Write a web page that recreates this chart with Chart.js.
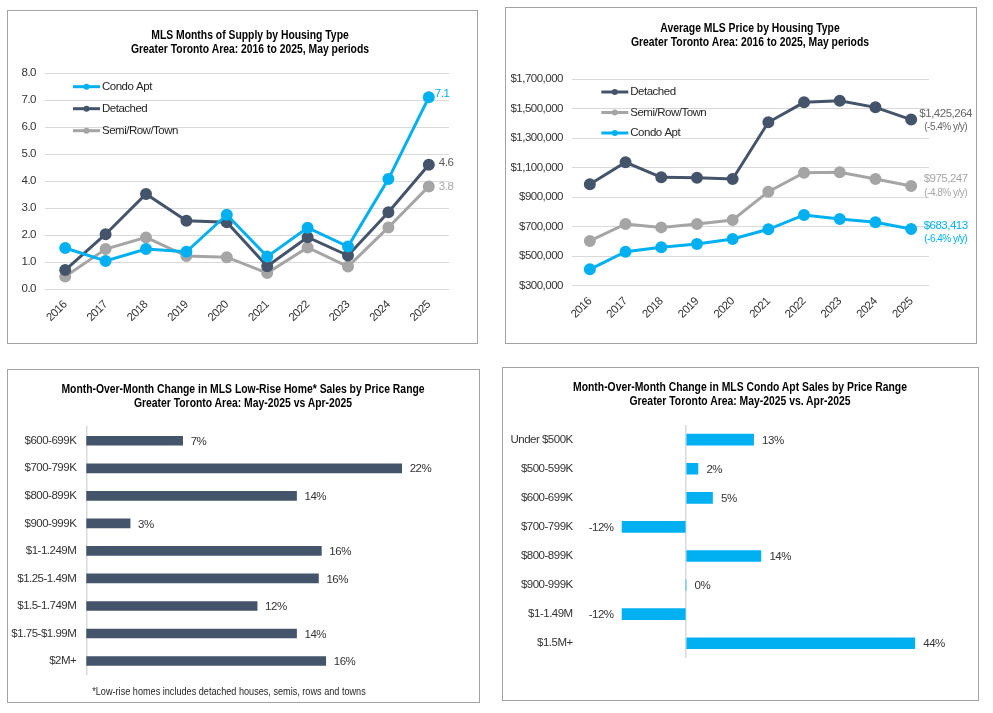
<!DOCTYPE html>
<html>
<head>
<meta charset="utf-8">
<script src="https://cdn.jsdelivr.net/npm/chart.js@4.4.1/dist/chart.umd.min.js"></script>
<style>
  body { margin: 0; background: #fff; }
  #page { position: relative; width: 993px; height: 713px; overflow: hidden;
          font-family: 'Liberation Sans', Arial, sans-serif; }
  .panel { position: absolute; border: 1px solid #a3a3a3; box-sizing: border-box; }
  .box { position: absolute; }
  .ttl { position: absolute; width: 460px; text-align: center; font-weight: bold;
         font-size: 12.5px; color: #000; line-height: 14px; white-space: nowrap;
         transform: scaleX(0.83); transform-origin: 50% 0; }
  .note { position: absolute; width: 400px; text-align: center; font-size: 11px; color: #262626;
          white-space: nowrap; transform: scaleX(0.83); transform-origin: 50% 0; }
</style>
</head>
<body>
<div id="page">
  <div class="panel" style="left:7px;top:10px;width:471px;height:334px"></div>
  <div class="panel" style="left:505px;top:7px;width:472px;height:337px"></div>
  <div class="panel" style="left:7px;top:369px;width:473px;height:334px"></div>
  <div class="panel" style="left:502px;top:367px;width:477px;height:334px"></div>

  <div class="box" style="left:8px;top:11px;width:469px;height:332px"><canvas id="supply"></canvas></div>
  <div class="box" style="left:506px;top:8px;width:470px;height:335px"><canvas id="price"></canvas></div>
  <div class="box" style="left:8px;top:370px;width:471px;height:332px"><canvas id="lowrise"></canvas></div>
  <div class="box" style="left:503px;top:368px;width:475px;height:332px"><canvas id="condo"></canvas></div>

  <div class="ttl" style="left:20px;top:28px">MLS Months of Supply by Housing Type<br>Greater Toronto Area: 2016 to 2025, May periods</div>
  <div class="ttl" style="left:520px;top:21px">Average MLS Price by Housing Type<br>Greater Toronto Area: 2016 to 2025, May periods</div>
  <div class="ttl" style="left:13px;top:382px">Month-Over-Month Change in MLS Low-Rise Home* Sales by Price Range<br>Greater Toronto Area: May-2025 vs Apr-2025</div>
  <div class="ttl" style="left:510px;top:380px">Month-Over-Month Change in MLS Condo Apt Sales by Price Range<br>Greater Toronto Area: May-2025 vs. Apr-2025</div>
  <div class="note" style="left:29px;top:685px">*Low-rise homes includes detached houses, semis, rows and towns</div>
</div>

<script>
const FONT = "'Liberation Sans', Arial, sans-serif";
Chart.defaults.font.family = FONT;
Chart.defaults.font.size = 11.5;
Chart.defaults.color = '#333333';

const CONDO = '#00b0f0';
const DETACHED = '#44546a';
const SEMI = '#a5a5a5';
const GRID = '#d9d9d9';

// ---- data ----
const years = ['2016', '2017', '2018', '2019', '2020', '2021', '2022', '2023', '2024', '2025'];

const supplyCondo    = [1.52, 1.04, 1.48, 1.38, 2.75, 1.20, 2.27, 1.57, 4.07, 7.1];
const supplyDetached = [0.70, 2.03, 3.52, 2.53, 2.47, 0.84, 1.92, 1.24, 2.84, 4.6];
const supplySemi     = [0.46, 1.48, 1.91, 1.22, 1.18, 0.59, 1.54, 0.83, 2.28, 3.8];

const priceDetached = [987000, 1136000, 1034000, 1031000, 1023000, 1407000, 1542000, 1553000, 1508000, 1425264];
const priceSemi     = [603000, 718000, 695000, 718000, 745000, 937000, 1065000, 1068000, 1023000, 975247];
const priceCondo    = [411000, 530000, 560000, 582000, 616000, 682000, 779000, 752000, 729000, 683413];
const priceYoY      = [-5.4, -4.8, -6.4];   // detached, semi, condo

const lowRiseRanges = ['$600-699K', '$700-799K', '$800-899K', '$900-999K', '$1-1.249M',
                       '$1.25-1.49M', '$1.5-1.749M', '$1.75-$1.99M', '$2M+'];
const lowRiseChange = [6.6, 21.6, 14.4, 3.0, 16.1, 15.9, 11.7, 14.4, 16.4];

const condoRanges = ['Under $500K', '$500-599K', '$600-699K', '$700-799K', '$800-899K',
                     '$900-999K', '$1-1.49M', '$1.5M+'];
const condoChange = [13.0, 2.3, 5.1, -12.3, 14.4, 0, -12.3, 44.0];

// ---- plugins ----
// no narrow font installed: tighten the letters a bit instead
const tightText = {
  id: 'tightText',
  beforeLayout(chart) { chart.ctx.letterSpacing = '-0.5px'; },
  beforeDraw(chart) { chart.ctx.letterSpacing = '-0.5px'; }
};
Chart.register(tightText);

const insideLegend = {
  id: 'insideLegend',
  afterDraw(chart, args, opts) {
    const {ctx, chartArea} = chart;
    ctx.save();
    chart.data.datasets.forEach((ds, i) => {
      const x0 = chartArea.left + opts.left;
      const y = chartArea.top + opts.top + i * opts.spacing;
      ctx.strokeStyle = ds.borderColor;
      ctx.lineWidth = 3;
      ctx.beginPath();
      ctx.moveTo(x0, y);
      ctx.lineTo(x0 + 27, y);
      ctx.stroke();
      ctx.fillStyle = ds.borderColor;
      ctx.beginPath();
      ctx.arc(x0 + 13.5, y, 3, 0, Math.PI * 2);
      ctx.fill();
      ctx.fillStyle = '#262626';
      ctx.font = '11.5px ' + FONT;
      ctx.textAlign = 'left';
      ctx.textBaseline = 'middle';
      ctx.fillText(ds.label, x0 + 29, y);
    });
    ctx.restore();
  }
};

const endLabels = {
  id: 'endLabels',
  afterDatasetsDraw(chart, args, opts) {
    const {ctx} = chart;
    ctx.save();
    ctx.textBaseline = 'middle';
    opts.items.forEach((it, i) => {
      const meta = chart.getDatasetMeta(i);
      const pt = meta.data[meta.data.length - 1];
      ctx.fillStyle = it.color;
      ctx.textAlign = it.align;
      it.lines.forEach(l => {
        ctx.font = l.size + 'px ' + FONT;
        ctx.fillText(l.text, pt.x + l.dx, pt.y + l.dy);
      });
    });
    ctx.restore();
  }
};

const barLabels = {
  id: 'barLabels',
  afterDatasetsDraw(chart, args, opts) {
    const {ctx} = chart;
    const vals = chart.data.datasets[0].data;
    ctx.save();
    ctx.font = '11.5px ' + FONT;
    ctx.fillStyle = '#333333';
    ctx.textBaseline = 'middle';
    chart.getDatasetMeta(0).data.forEach((bar, i) => {
      const v = vals[i];
      const txt = Math.round(v) + '%';
      if (v >= 0) {
        ctx.textAlign = 'left';
        ctx.fillText(txt, bar.x + opts.gap, bar.y + 1);
      } else {
        ctx.textAlign = 'right';
        ctx.fillText(txt, bar.x - opts.gap, bar.y + 1);
      }
    });
    ctx.restore();
  }
};

function lineSet(label, data, color) {
  return {
    label, data,
    borderColor: color, backgroundColor: color,
    borderWidth: 3, pointRadius: 4.5, pointHoverRadius: 4.5,
    pointBackgroundColor: color, pointBorderColor: color,
    tension: 0
  };
}

// ---- chart 1: months of supply ----
new Chart(document.getElementById('supply'), {
  type: 'line',
  data: {
    labels: years,
    datasets: [
      lineSet('Condo Apt', supplyCondo, CONDO),
      lineSet('Detached', supplyDetached, DETACHED),
      lineSet('Semi/Row/Town', supplySemi, SEMI)
    ]
  },
  options: {
    responsive: true, maintainAspectRatio: false, animation: false,
    layout: { padding: { left: 5, right: 28, top: 62, bottom: 0 } },
    scales: {
      x: {
        offset: true,
        grid: { display: false },
        border: { display: false },
        ticks: { minRotation: 45, maxRotation: 45, padding: 1 },
        afterFit(s) { s.height = 54; }
      },
      y: {
        min: 0, max: 8,
        ticks: { stepSize: 1, padding: 9, callback: v => v.toFixed(1) },
        grid: { color: GRID, drawTicks: false },
        border: { display: false },
        afterFit(s) { s.width = 32; }
      }
    },
    plugins: {
      legend: { display: false },
      tooltip: { enabled: false },
      insideLegend: { left: 28, top: 13.7, spacing: 22 },
      endLabels: {
        items: [
          { color: CONDO, align: 'left', lines: [{ text: supplyCondo[9].toFixed(1), dx: 6, dy: -3, size: 11.5 }] },
          { color: '#595959', align: 'left', lines: [{ text: supplyDetached[9].toFixed(1), dx: 10, dy: -1.5, size: 11.5 }] },
          { color: SEMI, align: 'left', lines: [{ text: supplySemi[9].toFixed(1), dx: 10, dy: 0, size: 11.5 }] }
        ]
      }
    }
  },
  plugins: [insideLegend, endLabels]
});

// ---- chart 2: average price ----
const money = v => '$' + Math.round(v).toLocaleString('en-US');
const yoy = v => '(' + v.toFixed(1) + '% y/y)';

new Chart(document.getElementById('price'), {
  type: 'line',
  data: {
    labels: years,
    datasets: [
      lineSet('Detached', priceDetached, DETACHED),
      lineSet('Semi/Row/Town', priceSemi, SEMI),
      lineSet('Condo Apt', priceCondo, CONDO)
    ]
  },
  options: {
    responsive: true, maintainAspectRatio: false, animation: false,
    layout: { padding: { left: 3, right: 47, top: 71, bottom: 0 } },
    scales: {
      x: {
        offset: true,
        grid: { display: false },
        border: { display: false },
        ticks: { minRotation: 45, maxRotation: 45, padding: 1 },
        afterFit(s) { s.height = 57.3; }
      },
      y: {
        min: 300000, max: 1700000,
        ticks: { stepSize: 200000, padding: 9, callback: v => money(v) },
        grid: { color: GRID, drawTicks: false },
        border: { display: false },
        afterFit(s) { s.width = 63; }
      }
    },
    plugins: {
      legend: { display: false },
      tooltip: { enabled: false },
      insideLegend: { left: 29.3, top: 13, spacing: 20.5 },
      endLabels: {
        items: [
          { color: '#666666', align: 'center', lines: [
            { text: money(priceDetached[9]), dx: 34.5, dy: -6, size: 11.5 },
            { text: yoy(priceYoY[0]), dx: 34.5, dy: 7.5, size: 10 }] },
          { color: SEMI, align: 'center', lines: [
            { text: money(priceSemi[9]), dx: 34.5, dy: -7, size: 11.5 },
            { text: yoy(priceYoY[1]), dx: 34.5, dy: 7, size: 10 }] },
          { color: CONDO, align: 'center', lines: [
            { text: money(priceCondo[9]), dx: 34.5, dy: -3.3, size: 11.5 },
            { text: yoy(priceYoY[2]), dx: 34.5, dy: 9.7, size: 10 }] }
        ]
      }
    }
  },
  plugins: [insideLegend, endLabels]
});

// ---- chart 3: low-rise sales change ----
new Chart(document.getElementById('lowrise'), {
  type: 'bar',
  data: {
    labels: lowRiseRanges,
    datasets: [{ data: lowRiseChange, backgroundColor: DETACHED, barThickness: 9 }]
  },
  options: {
    indexAxis: 'y',
    responsive: true, maintainAspectRatio: false, animation: false,
    layout: { padding: { left: 2, right: 27.7, top: 57, bottom: 27.2 } },
    scales: {
      x: { min: 0, max: 25, display: false },
      y: {
        grid: { display: false, drawTicks: false },
        border: { display: true, color: GRID, width: 1.5 },
        ticks: { padding: 10 },
        afterFit(s) { s.width = 76.3; }
      }
    },
    plugins: {
      legend: { display: false },
      tooltip: { enabled: false },
      barLabels: { gap: 8 }
    }
  },
  plugins: [barLabels]
});

// ---- chart 4: condo sales change ----
new Chart(document.getElementById('condo'), {
  type: 'bar',
  data: {
    labels: condoRanges,
    datasets: [{ data: condoChange, backgroundColor: CONDO, barThickness: 11 }]
  },
  options: {
    indexAxis: 'y',
    responsive: true, maintainAspectRatio: false, animation: false,
    layout: { padding: { left: 2, right: 32, top: 57.1, bottom: 20.1 } },
    scales: {
      x: {
        min: -15, max: 50,
        ticks: { display: false, stepSize: 5 },
        grid: { color: c => c.tick.value === 0 ? GRID : 'rgba(0,0,0,0)', lineWidth: 1.5, drawTicks: false },
        border: { display: false },
        afterFit(s) { s.height = 0; }
      },
      y: {
        grid: { display: false, drawTicks: false },
        border: { display: false },
        ticks: { padding: 35.3 },
        afterFit(s) { s.width = 103; }
      }
    },
    plugins: {
      legend: { display: false },
      tooltip: { enabled: false },
      barLabels: { gap: 8.5 }
    }
  },
  plugins: [barLabels]
});
</script>
</body>
</html>
